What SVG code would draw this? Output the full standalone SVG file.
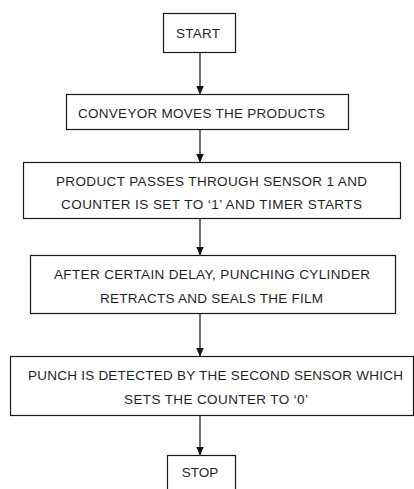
<svg xmlns="http://www.w3.org/2000/svg" width="414" height="489" viewBox="0 0 414 489">
  <style>
    .box { fill: #ffffff; stroke: #1a1a1a; stroke-width: 1.2; }
    .lbl { font-family: "Liberation Sans", Arial, sans-serif; font-size: 13.5px; fill: #1f1f1f; text-anchor: middle; }
    .conn { stroke: #111111; stroke-width: 1.2; fill: none; marker-end: url(#arrow); }
  </style>
  <defs>
    <marker id="arrow" markerUnits="userSpaceOnUse" markerWidth="9" markerHeight="8" refX="9" refY="4" orient="auto">
      <path d="M0,0 L9,4 L0,8 z" fill="#111111"/>
    </marker>
  </defs>
  <rect width="414" height="489" fill="#ffffff"/>

  <g id="connectors">
    <line class="conn" x1="200" y1="52.5" x2="200" y2="94.5"/>
    <line class="conn" x1="200" y1="129.5" x2="200" y2="162.5"/>
    <line class="conn" x1="200" y1="218.5" x2="200" y2="255.5"/>
    <line class="conn" x1="200" y1="313.5" x2="200" y2="356.5"/>
    <line class="conn" x1="200" y1="415.5" x2="200" y2="455.5"/>
  </g>

  <g id="start">
    <rect class="box" x="163.5" y="13.5" width="72" height="39"/>
    <text class="lbl" x="198" y="38" textLength="44">START</text>
  </g>

  <g id="conveyor">
    <rect class="box" x="66.5" y="94.5" width="282" height="35"/>
    <text class="lbl" x="201.5" y="118" textLength="247">CONVEYOR MOVES THE PRODUCTS</text>
  </g>

  <g id="sensor1">
    <rect class="box" x="23.5" y="162.5" width="377" height="56"/>
    <text class="lbl" x="211.5" y="186" textLength="311">PRODUCT PASSES THROUGH SENSOR 1 AND</text>
    <text class="lbl" x="211.5" y="209" textLength="301">COUNTER IS SET TO ‘1’ AND TIMER STARTS</text>
  </g>

  <g id="punching">
    <rect class="box" x="30.5" y="255.5" width="365" height="58"/>
    <text class="lbl" x="212" y="279" textLength="316">AFTER CERTAIN DELAY, PUNCHING CYLINDER</text>
    <text class="lbl" x="211.5" y="303" textLength="223">RETRACTS AND SEALS THE FILM</text>
  </g>

  <g id="detect">
    <rect class="box" x="10.5" y="356.5" width="403" height="59"/>
    <text class="lbl" x="215.5" y="380" textLength="375">PUNCH IS DETECTED BY THE SECOND SENSOR WHICH</text>
    <text class="lbl" x="216" y="404" textLength="184">SETS THE COUNTER TO ‘0’</text>
  </g>

  <g id="stop">
    <rect class="box" x="167.5" y="455.5" width="68" height="50"/>
    <text class="lbl" x="200" y="477" textLength="36.6">STOP</text>
  </g>
</svg>
